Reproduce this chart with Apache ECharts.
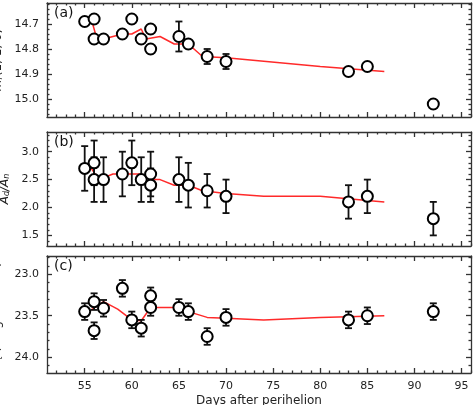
<!DOCTYPE html>
<html>
<head>
    <meta charset="utf-8">
    <style>
        * { margin: 0; padding: 0; }
        html, body { width: 100%; height: 100%; background: #fff; }
    </style>
</head>
<body>
<div id="main" style="width:473px;height:405px;"></div>
<script src="https://cdn.jsdelivr.net/npm/echarts@6/dist/echarts.min.js"></script>
<script>
// days of each observation
const days = [55, 56, 56, 57, 59, 60, 61, 62, 62, 65, 66, 68, 70, 83, 85, 92];
// (a) absolute magnitude
const magVal = [14.69, 14.68, 14.76, 14.76, 14.74, 14.68, 14.76, 14.72, 14.80, 14.75, 14.78, 14.83, 14.85, 14.89, 14.87, 15.02];
const magErr = [0.004, 0.004, 0.004, 0.01, 0.004, 0.004, 0.01, 0.004, 0.004, 0.06, 0.01, 0.03, 0.03, 0.01, 0.004, 0.01];
const magModel = [[55.7, 14.68], [56.3, 14.76], [57, 14.76], [58, 14.75], [59, 14.74], [60, 14.74], [61, 14.72], [61.5, 14.76], [63, 14.75], [64.5, 14.78], [66, 14.78], [67.5, 14.83], [70, 14.835], [80, 14.87], [86.8, 14.89]];
// (b) dust/nucleus area ratio
const ratioVal = [2.7, 2.8, 2.5, 2.5, 2.6, 2.8, 2.5, 2.6, 2.4, 2.5, 2.4, 2.3, 2.2, 2.1, 2.2, 1.8];
const ratioErr = [0.4, 0.4, 0.4, 0.4, 0.4, 0.4, 0.4, 0.4, 0.3, 0.4, 0.4, 0.3, 0.3, 0.3, 0.3, 0.3];
const ratioModel = [[55.7, 2.7], [56.5, 2.5], [58, 2.6], [60, 2.6], [61, 2.6], [62, 2.5], [63, 2.5], [64.5, 2.4], [66, 2.4], [67.5, 2.3], [70, 2.25], [74, 2.2], [80, 2.2], [86.8, 2.1]];
// (c) surface brightness
const sbVal = [23.45, 23.33, 23.68, 23.41, 23.17, 23.55, 23.65, 23.26, 23.40, 23.40, 23.45, 23.75, 23.52, 23.55, 23.50, 23.45];
const sbErr = [0.1, 0.1, 0.1, 0.1, 0.1, 0.1, 0.1, 0.1, 0.1, 0.1, 0.1, 0.1, 0.1, 0.1, 0.1, 0.1];
const sbModel = [[55.7, 23.43], [57, 23.33], [58.5, 23.42], [60, 23.55], [61, 23.56], [62, 23.4], [63, 23.4], [65, 23.4], [66, 23.45], [68, 23.52], [70, 23.53], [74, 23.55], [80, 23.52], [86.8, 23.5]];

const xMajor = [55, 60, 65, 70, 75, 80, 85, 90, 95];
const xMinor = [];
for (let d = 52; d <= 96; d++) if (d % 5) xMinor.push(d);

const panels = [
    { top: 3, height: 114, min: 14.616, max: 15.072, inverse: true, major: [14.7, 14.8, 14.9, 15.0], minorStep: 0.02, fmt: v => v.toFixed(1),
      name: '{i|m}{s|r}(1, 1, 0)', val: magVal, err: magErr, model: magModel, tag: '(a)' },
    { top: 132, height: 114, min: 1.31, max: 3.353, inverse: false, major: [1.5, 2.0, 2.5, 3.0], minorStep: 0.1, fmt: v => v.toFixed(1),
      name: '{i|A}{s|d}{i|/A}{s|n}', val: ratioVal, err: ratioErr, model: ratioModel, tag: '(b)' },
    { top: 256, height: 117, min: 22.78, max: 24.19, inverse: true, major: [23.0, 23.5, 24.0], minorStep: 0.1, fmt: v => v.toFixed(1),
      name: 'Σ{s|t} (mag arcsec{p|−2})', val: sbVal, err: sbErr, model: sbModel, tag: '(c)' }
];

const line = { lineStyle: { color: '#333', width: 1.3 } };
const grid = [], xAxis = [], yAxis = [], series = [], graphic = [];

panels.forEach((p, g) => {
    grid.push({ left: 47, right: 2, top: p.top, height: p.height, containLabel: false, outerBoundsMode: 'none' });
    const last = g === 2;
    const yMinor = [];
    for (let v = Math.ceil(p.min / p.minorStep) * p.minorStep; v <= p.max; v += p.minorStep) {
        const r = Math.round(v * 100) / 100;
        if (!p.major.some(m => Math.abs(m - r) < 1e-6)) yMinor.push(r);
    }
    ['bottom', 'top'].forEach(pos => {
        xAxis.push({
            gridIndex: g, type: 'value', min: 51, max: 96, position: pos,
            axisLine: { show: true, onZero: false, ...line },
            axisTick: { inside: true, length: 5, customValues: xMajor, ...line },
            axisLabel: { show: last && pos === 'bottom', customValues: xMajor, color: '#222', fontSize: 11, fontFamily: 'DejaVu Sans' },
            splitLine: { show: false },
            name: last && pos === 'bottom' ? 'Days after perihelion' : '',
            nameLocation: 'middle', nameGap: 22,
            nameTextStyle: { color: '#222', fontSize: 12, fontFamily: 'DejaVu Sans' }
        });
        xAxis.push({
            gridIndex: g, type: 'value', min: 51, max: 96, position: pos,
            axisLine: { show: false },
            axisTick: { inside: true, length: 2.5, customValues: xMinor, ...line },
            axisLabel: { show: false }, splitLine: { show: false }
        });
    });
    ['left', 'right'].forEach(pos => {
        yAxis.push({
            gridIndex: g, type: 'value', min: p.min, max: p.max, inverse: p.inverse, position: pos,
            axisLine: { show: true, onZero: false, ...line },
            axisTick: { inside: true, length: 5, customValues: p.major, ...line },
            axisLabel: { show: pos === 'left', customValues: p.major, formatter: p.fmt, color: '#222', fontSize: 11, fontFamily: 'DejaVu Sans' },
            splitLine: { show: false },
            name: pos === 'left' ? p.name : '',
            nameLocation: 'middle', nameGap: 30, nameRotate: 90,
            nameTextStyle: {
                color: '#222', fontSize: 12, fontFamily: 'DejaVu Sans',
                rich: {
                    i: { fontStyle: 'italic', fontSize: 12, fontFamily: 'DejaVu Sans', color: '#222' },
                    s: { fontStyle: 'italic', fontSize: 8, fontFamily: 'DejaVu Sans', color: '#222', verticalAlign: 'bottom', padding: [4, 0, 0, 0] },
                    p: { fontSize: 8, fontFamily: 'DejaVu Sans', color: '#222', verticalAlign: 'top', padding: [0, 0, 6, 0] }
                }
            }
        });
        yAxis.push({
            gridIndex: g, type: 'value', min: p.min, max: p.max, inverse: p.inverse, position: pos,
            axisLine: { show: false },
            axisTick: { inside: true, length: 2.5, customValues: yMinor, ...line },
            axisLabel: { show: false }, splitLine: { show: false }
        });
    });
    const xi = g * 4, yi = g * 4;
    series.push({
        type: 'line', xAxisIndex: xi, yAxisIndex: yi, data: p.model, showSymbol: false,
        lineStyle: { color: '#ff2a2a', width: 1.5 }, silent: true, z: 2
    });
    series.push({
        type: 'custom', xAxisIndex: xi, yAxisIndex: yi, z: 3,
        data: days.map((d, i) => [d, p.val[i] - p.err[i], p.val[i] + p.err[i]]),
        renderItem: (params, api) => {
            const a = api.coord([api.value(0), api.value(1)]);
            const b = api.coord([api.value(0), api.value(2)]);
            const s = { stroke: '#111', lineWidth: 1.8 };
            return { type: 'group', children: [
                { type: 'line', shape: { x1: a[0], y1: a[1], x2: b[0], y2: b[1] }, style: s },
                { type: 'line', shape: { x1: a[0] - 3.5, y1: a[1], x2: a[0] + 3.5, y2: a[1] }, style: s },
                { type: 'line', shape: { x1: b[0] - 3.5, y1: b[1], x2: b[0] + 3.5, y2: b[1] }, style: s }
            ] };
        }
    });
    series.push({
        type: 'scatter', xAxisIndex: xi, yAxisIndex: yi, z: 4,
        data: days.map((d, i) => [d, p.val[i]]), symbol: 'circle', symbolSize: 11,
        itemStyle: { color: '#fff', borderColor: '#000', borderWidth: 2, opacity: 1 }
    });
    graphic.push({ type: 'text', left: 54, top: p.top + 3, style: { text: p.tag, fontSize: 14, fontFamily: 'DejaVu Sans', fill: '#111' } });
});

const chart = echarts.init(document.getElementById('main'));
chart.setOption({ animation: false, grid, xAxis, yAxis, series, graphic });
</script>
</body>
</html>
